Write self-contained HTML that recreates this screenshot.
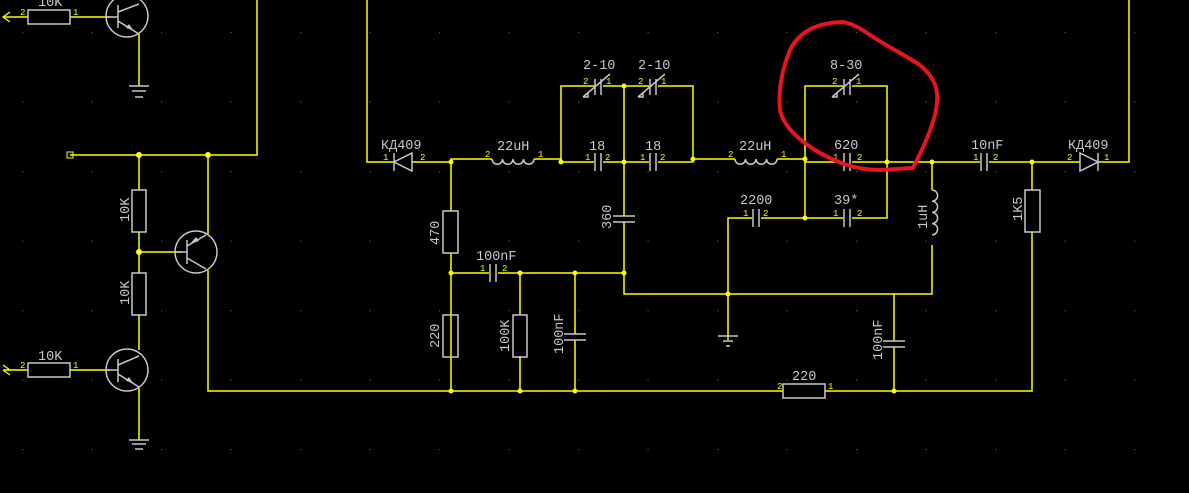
<!DOCTYPE html>
<html><head><meta charset="utf-8"><style>
html,body{margin:0;padding:0;background:#000;}
svg{display:block;}
text{font-family:"Liberation Mono","DejaVu Sans Mono",monospace;}
.l{fill:#c8c8c8;font-size:13.5px;}
.p{fill:#ffff00;font-size:9px;}
</style></head><body>
<svg width="1189" height="493" viewBox="0 0 1189 493" xmlns="http://www.w3.org/2000/svg">
<defs>
<pattern id="g" x="22" y="32" width="69.5" height="69.5" patternUnits="userSpaceOnUse"><rect x="0" y="0" width="1.2" height="1.2" fill="#555"/></pattern>
</defs>
<rect width="1189" height="493" fill="#000"/>
<rect width="1189" height="493" fill="url(#g)"/>

<g stroke="#ffff00" stroke-width="1.5" fill="none">
<path d="M3 17H28M70 17H110"/>
<path d="M139 34V86"/>
<path d="M70 155H257V0"/>
<path d="M139 155V190M139 232V273M139 315V350M139 388V440"/>
<path d="M139 252H182"/>
<path d="M208 155V234M208 270V391H783M825 391H1032V232"/>
<path d="M3 370H28M70 370H110"/>
<path d="M367 0V162H393M412 162H451V159H492M534 159H561V162H693V159H735M777 159H805V162H932H1080M1098 162H1129V0"/>
<path d="M561 162V86H693V159"/>
<path d="M624 86V294H932V245M932 190V162"/>
<path d="M451 162V211M451 253V391M451 273H624"/>
<path d="M520 273V315M520 356V391M575 273V391"/>
<path d="M805 159V86H887V218H728V340"/>
<path d="M805 159V218"/>
<path d="M1032 162V190"/>
<path d="M894 294V391"/>
</g>
<g fill="#000">
<rect x="594" y="150" width="9" height="24"/><rect x="649" y="150" width="9" height="24"/>
<rect x="594" y="78" width="9" height="16"/><rect x="649" y="78" width="9" height="16"/>
<rect x="843" y="78" width="9" height="16"/>
<rect x="843" y="150" width="9" height="24"/><rect x="843" y="206" width="9" height="24"/>
<rect x="752" y="206" width="9" height="24"/><rect x="980" y="150" width="9" height="24"/>
<rect x="489" y="262" width="9" height="22"/>
<rect x="612" y="216" width="24" height="6"/><rect x="563" y="334" width="24" height="6"/><rect x="882" y="341" width="24" height="6"/>
</g>

<g stroke="#c8c8c8" stroke-width="1.5" fill="none">
<rect x="28" y="10" width="42" height="14"/>
<rect x="28" y="363" width="42" height="14"/>
<rect x="132" y="190" width="14" height="42"/>
<rect x="132" y="273" width="14" height="42"/>
<rect x="443" y="211" width="15" height="42"/>
<rect x="443" y="315" width="15" height="42"/>
<rect x="513" y="315" width="14" height="42"/>
<rect x="1025" y="190" width="15" height="42"/>
<rect x="783" y="384" width="42" height="14"/>
<circle cx="127" cy="16" r="21"/>
<path d="M118 5V28M108 17H118M118 12L139 4M118 21L139 34"/>
<circle cx="196" cy="252" r="21"/>
<path d="M187 240V264M180 252H187M187 246L206 235M187 258L206 269"/>
<circle cx="127" cy="370" r="21"/>
<path d="M118 359V382M108 370H118M118 365L139 356M118 374L139 387"/>
<path d="M129 86H149M132 91H146M135 97H143"/>
<path d="M129 440H149M132 444H146M135 449H143"/>
<path d="M718 336H738M723 341H733M726 346H730"/>
<path d="M394 153V171M412 153V171L394 162Z"/>
<path d="M1098 153V171M1080 153V171L1098 162Z"/>
<path d="M492 159a5.25 5.25 0 0 0 10.5 0a5.25 5.25 0 0 0 10.5 0a5.25 5.25 0 0 0 10.5 0a5.25 5.25 0 0 0 10.5 0"/>
<path d="M735 159a5.25 5.25 0 0 0 10.5 0a5.25 5.25 0 0 0 10.5 0a5.25 5.25 0 0 0 10.5 0a5.25 5.25 0 0 0 10.5 0"/>
<path d="M932 190a5.6 5.6 0 0 1 0 11.2a5.6 5.6 0 0 1 0 11.2a5.6 5.6 0 0 1 0 11.2a5.6 5.6 0 0 1 0 11.2"/>
<path d="M595 153V171M601 153V171M650 153V171M656 153V171"/>
<path d="M844 153V171M850 153V171M844 209V227M850 209V227"/>
<path d="M753 209V227M759 209V227M981 153V171M987 153V171"/>
<path d="M490 264V282M496 264V282"/>
<path d="M595 79V95M601 79V95M583 97L610 74M583 97H588V92"/>
<path d="M650 79V95M656 79V95M638 97L665 74M638 97H643V92"/>
<path d="M844 79V95M850 79V95M832 97L859 74M832 97H837V92"/>
<path d="M613 216H635M613 222H635"/>
<path d="M564 334H586M564 340H586"/>
<path d="M883 341H905M883 347H905"/>
</g>
<g fill="#c8c8c8">
<path d="M133 30L126 28L129 24Z"/>
<path d="M133 383L126 381L129 377Z"/>
<path d="M190 244L199 241L196 237Z"/>
</g>

<g fill="#ffff00">
<circle cx="139" cy="155" r="3"/><circle cx="208" cy="155" r="3"/><circle cx="139" cy="252" r="3"/>
<rect x="67" y="152" width="6" height="6" fill="none" stroke="#ffff00"/>
<circle cx="451" cy="162" r="2.5"/><circle cx="561" cy="162" r="2.5"/><circle cx="624" cy="86" r="2.5"/>
<circle cx="624" cy="162" r="2.5"/><circle cx="693" cy="159" r="2.5"/><circle cx="451" cy="273" r="2.5"/>
<circle cx="520" cy="273" r="2.5"/><circle cx="575" cy="273" r="2.5"/><circle cx="624" cy="273" r="2.5"/>
<circle cx="451" cy="391" r="2.5"/><circle cx="520" cy="391" r="2.5"/><circle cx="575" cy="391" r="2.5"/>
<circle cx="728" cy="294" r="2.5"/><circle cx="805" cy="159" r="2.5"/><circle cx="887" cy="162" r="2.5"/>
<circle cx="805" cy="218" r="2.5"/><circle cx="932" cy="162" r="2.5"/><circle cx="1032" cy="162" r="2.5"/>
<circle cx="894" cy="391" r="2.5"/>
</g>
<g stroke="#ffff00" stroke-width="1.3" fill="none">
<path d="M10 12L3 17L10 22M3 365L10 370M3 370L10 375"/>
</g>

<g class="l">
<text x="38" y="6">10K</text>
<text x="38" y="360">10K</text>
<text x="129" y="222" transform="rotate(-90 129 222)">10K</text>
<text x="129" y="305" transform="rotate(-90 129 305)">10K</text>
<text x="381" y="149">КД409</text>
<text x="497" y="150">22uH</text>
<text x="583" y="69">2-10</text>
<text x="638" y="69">2-10</text>
<text x="589" y="150">18</text>
<text x="645" y="150">18</text>
<text x="611" y="229" transform="rotate(-90 611 229)">360</text>
<text x="439" y="245" transform="rotate(-90 439 245)">470</text>
<text x="476" y="260">100nF</text>
<text x="439" y="348" transform="rotate(-90 439 348)">220</text>
<text x="509" y="352" transform="rotate(-90 509 352)">100K</text>
<text x="563" y="354" transform="rotate(-90 563 354)">100nF</text>
<text x="739" y="150">22uH</text>
<text x="830" y="69">8-30</text>
<text x="834" y="149">620</text>
<text x="740" y="204">2200</text>
<text x="834" y="204">39*</text>
<text x="927" y="229" transform="rotate(-90 927 229)">1uH</text>
<text x="971" y="149">10nF</text>
<text x="1068" y="149">КД409</text>
<text x="1022" y="221" transform="rotate(-90 1022 221)">1K5</text>
<text x="882" y="360" transform="rotate(-90 882 360)">100nF</text>
<text x="792" y="380">220</text>
</g>
<g class="p">
<text x="20" y="15">2</text><text x="73" y="15">1</text><text x="20" y="368">2</text><text x="73" y="368">1</text>
<text x="383" y="160">1</text><text x="420" y="160">2</text>
<text x="485" y="157">2</text><text x="538" y="157">1</text>
<text x="585" y="160">1</text><text x="605" y="160">2</text><text x="640" y="160">1</text><text x="660" y="160">2</text>
<text x="583" y="84">2</text><text x="606" y="84">1</text><text x="638" y="84">2</text><text x="661" y="84">1</text>
<text x="728" y="157">2</text><text x="781" y="157">1</text>
<text x="832" y="84">2</text><text x="856" y="84">1</text>
<text x="833" y="160">1</text><text x="857" y="160">2</text>
<text x="743" y="216">1</text><text x="763" y="216">2</text><text x="833" y="216">1</text><text x="857" y="216">2</text>
<text x="480" y="271">1</text><text x="502" y="271">2</text>
<text x="973" y="160">1</text><text x="993" y="160">2</text>
<text x="1067" y="160">2</text><text x="1104" y="160">1</text>
<text x="777" y="389">2</text><text x="828" y="389">1</text>
</g>

<path d="M845 22C820 22 800 30 790 50C782 70 778 90 780 110C784 128 800 140 815 150C835 162 855 170 880 170L913 168C922 150 932 130 936 110C940 90 935 78 920 65C905 55 890 48 870 35C860 28 850 22 840 22" fill="none" stroke="#e8141e" stroke-width="4"/>
</svg>
</body></html>
